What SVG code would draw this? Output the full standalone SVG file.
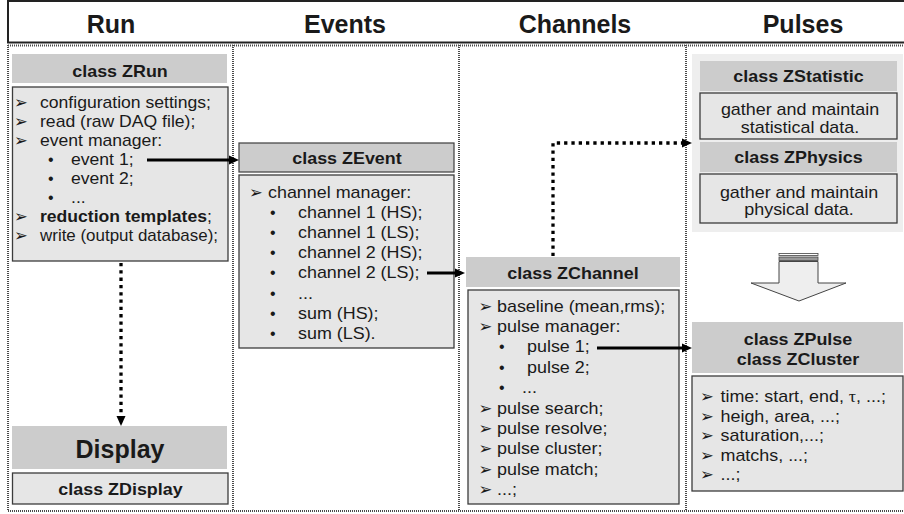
<svg xmlns="http://www.w3.org/2000/svg" width="904" height="514" viewBox="0 0 904 514">
<defs>
<style>
.t{font-family:"Liberation Sans","DejaVu Sans",sans-serif;font-size:16px;fill:#1a1a1a}
.b{font-weight:bold}
.m{text-anchor:middle}
.h{font-family:"Liberation Sans","DejaVu Sans",sans-serif;font-size:25px;font-weight:bold;fill:#1a1a1a;text-anchor:middle}
.sym{font-family:"DejaVu Sans",sans-serif;font-size:16.5px;fill:#1a1a1a}
.bul{font-family:"Liberation Sans",sans-serif;font-size:16px;fill:#1a1a1a}
.hdr{fill:#cccccc}
.body{fill:#e6e6e6;stroke:#3c3c3c;stroke-width:1.3}
.dot{stroke:#4a4a4a;stroke-width:2;stroke-dasharray:1 1;fill:none}
.conn{stroke:#000;stroke-width:3;fill:none}
.dconn{stroke:#000;stroke-width:3.3;stroke-dasharray:3.3 4;fill:none}
</style>
<marker id="ah" markerUnits="userSpaceOnUse" markerWidth="10" markerHeight="10" viewBox="0 0 10 10" refX="0" refY="5" orient="auto">
<path d="M0,0.5 L10,5 L0,9.5 Z" fill="#000"/>
</marker>
</defs>
<rect width="904" height="514" fill="#fff"/>

<g id="title-bar">
<rect x="8" y="1" width="900" height="41.5" fill="#fff" stroke="#222" stroke-width="2"/>
<text class="h" x="111" y="33">Run</text>
<text class="h" x="345" y="33">Events</text>
<text class="h" x="575" y="33">Channels</text>
<text class="h" x="803" y="33">Pulses</text>
</g>

<g id="columns">
<path class="dot" d="M8,45.5 H904 M8,511 H904 M8,45 V511 M233,45 V511 M459,45 V511 M686,45 V511"/>
</g>

<g id="zrun">
<rect class="hdr" x="12" y="54" width="215" height="29"/>
<text class="t b m" transform="translate(120,76.5) scale(1.12,1)">class ZRun</text>
<rect class="body" x="12.5" y="87" width="215.5" height="174"/>
<text class="sym" x="14" y="108">➢</text>
<text class="t" transform="translate(40,108) scale(1.1,1)">configuration settings;</text>
<text class="sym" x="14" y="127">➢</text>
<text class="t" transform="translate(40,127) scale(1.1,1)">read (raw DAQ file);</text>
<text class="sym" x="14" y="146">➢</text>
<text class="t" transform="translate(40,146) scale(1.1,1)">event manager:</text>
<text class="bul" x="48" y="165">•</text>
<text class="t" transform="translate(71,165) scale(1.1,1)">event 1;</text>
<text class="bul" x="48" y="184">•</text>
<text class="t" transform="translate(71,184) scale(1.1,1)">event 2;</text>
<text class="bul" x="48" y="203">•</text>
<text class="t" transform="translate(71,203) scale(1.1,1)">...</text>
<text class="sym" x="14" y="222">➢</text>
<text class="t" transform="translate(40,222) scale(1.1,1)"><tspan class="b">reduction templates</tspan>;</text>
<text class="sym" x="14" y="241">➢</text>
<text class="t" transform="translate(40,241) scale(1.06,1)">write (output database);</text>
</g>

<g id="display">
<rect class="hdr" x="12" y="426" width="215" height="43"/>
<text class="h" x="120" y="458">Display</text>
</g>

<g id="zdisplay">
<rect class="body" x="12.5" y="473" width="215.5" height="31"/>
<text class="t b m" transform="translate(120.5,495) scale(1.12,1)">class ZDisplay</text>
</g>

<g id="zevent">
<rect class="hdr" x="239" y="143" width="215" height="29" stroke="#3c3c3c" stroke-width="1.2"/>
<text class="t b m" transform="translate(347,164) scale(1.12,1)">class ZEvent</text>
<rect class="body" x="239" y="175" width="215" height="173"/>
<text class="sym" x="249" y="197.5">➢</text>
<text class="t" transform="translate(268,197.5) scale(1.12,1)">channel manager:</text>
<text class="bul" x="270" y="217.7">•</text>
<text class="t" transform="translate(298,217.7) scale(1.12,1)">channel 1 (HS);</text>
<text class="bul" x="270" y="237.9">•</text>
<text class="t" transform="translate(298,237.9) scale(1.12,1)">channel 1 (LS);</text>
<text class="bul" x="270" y="258.1">•</text>
<text class="t" transform="translate(298,258.1) scale(1.12,1)">channel 2 (HS);</text>
<text class="bul" x="270" y="278.3">•</text>
<text class="t" transform="translate(298,278.3) scale(1.12,1)">channel 2 (LS);</text>
<text class="bul" x="270" y="298.5">•</text>
<text class="t" transform="translate(298,298.5) scale(1.12,1)">...</text>
<text class="bul" x="270" y="318.7">•</text>
<text class="t" transform="translate(298,318.7) scale(1.12,1)">sum (HS);</text>
<text class="bul" x="270" y="338.9">•</text>
<text class="t" transform="translate(298,338.9) scale(1.12,1)">sum (LS).</text>
</g>

<g id="zchannel">
<rect class="hdr" x="466" y="257" width="214" height="30"/>
<text class="t b m" transform="translate(573,278.5) scale(1.12,1)">class ZChannel</text>
<rect class="body" x="468" y="290" width="211" height="214"/>
<text class="sym" x="478.5" y="311.6">➢</text>
<text class="t" transform="translate(497,311.6) scale(1.12,1)">baseline (mean,rms);</text>
<text class="sym" x="478.5" y="332">➢</text>
<text class="t" transform="translate(497,332) scale(1.12,1)">pulse manager:</text>
<text class="bul" x="499" y="352.4">•</text>
<text class="t" transform="translate(527,352.4) scale(1.12,1)">pulse 1;</text>
<text class="bul" x="499" y="372.8">•</text>
<text class="t" transform="translate(527,372.8) scale(1.12,1)">pulse 2;</text>
<text class="bul" x="499" y="393.2">•</text>
<text class="t" transform="translate(522,393.2) scale(1.12,1)">...</text>
<text class="sym" x="478.5" y="413.6">➢</text>
<text class="t" transform="translate(497,413.6) scale(1.12,1)">pulse search;</text>
<text class="sym" x="478.5" y="434">➢</text>
<text class="t" transform="translate(497,434) scale(1.12,1)">pulse resolve;</text>
<text class="sym" x="478.5" y="454.4">➢</text>
<text class="t" transform="translate(497,454.4) scale(1.12,1)">pulse cluster;</text>
<text class="sym" x="478.5" y="474.8">➢</text>
<text class="t" transform="translate(497,474.8) scale(1.12,1)">pulse match;</text>
<text class="sym" x="478.5" y="495.2">➢</text>
<text class="t" transform="translate(497,495.2) scale(1.12,1)">...;</text>
</g>

<g id="pulses-panel">
<rect x="692" y="54" width="211" height="178" fill="#eeeeee"/>
</g>

<g id="zstatistic">
<rect class="hdr" x="700" y="61" width="197" height="30"/>
<text class="t b m" transform="translate(798.5,82) scale(1.12,1)">class ZStatistic</text>
<rect class="body" x="700" y="93" width="197" height="46"/>
<text class="t m" transform="translate(800,114.5) scale(1.12,1)">gather and maintain</text>
<text class="t m" transform="translate(800,132.5) scale(1.12,1)">statistical data.</text>
</g>

<g id="zphysics">
<rect class="hdr" x="700" y="142" width="197" height="30"/>
<text class="t b m" transform="translate(798.5,163) scale(1.12,1)">class ZPhysics</text>
<rect class="body" x="700" y="174" width="197" height="49"/>
<text class="t m" transform="translate(799,197.5) scale(1.12,1)">gather and maintain</text>
<text class="t m" transform="translate(799,214.5) scale(1.12,1)">physical data.</text>
</g>

<g id="big-arrow">
<rect x="779" y="253.5" width="39" height="2" fill="#fff" stroke="#444" stroke-width="0.8"/>
<rect x="779" y="257" width="39" height="3.5" fill="#999" stroke="#444" stroke-width="0.8"/>
<path d="M779,261.5 H818 V283 H846 L799,301 L751,283 H779 Z" fill="#eeeeee" stroke="#444" stroke-width="1"/>
</g>

<g id="zpulse">
<rect class="hdr" x="692" y="322" width="211" height="51"/>
<text class="t b m" transform="translate(798,345) scale(1.12,1)">class ZPulse</text>
<text class="t b m" transform="translate(798,365) scale(1.12,1)">class ZCluster</text>
<rect class="body" x="692" y="376" width="211" height="115"/>
<text class="sym" x="700" y="402">➢</text>
<text class="t" transform="translate(720.5,402) scale(1.12,1)">time: start, end, <tspan font-family="Liberation Serif, serif">τ</tspan>, ...;</text>
<text class="sym" x="700" y="421.5">➢</text>
<text class="t" transform="translate(720.5,421.5) scale(1.12,1)">heigh, area, ...;</text>
<text class="sym" x="700" y="441">➢</text>
<text class="t" transform="translate(720.5,441) scale(1.12,1)">saturation,...;</text>
<text class="sym" x="700" y="460.5">➢</text>
<text class="t" transform="translate(720.5,460.5) scale(1.12,1)">matchs, ...;</text>
<text class="sym" x="700" y="480">➢</text>
<text class="t" transform="translate(720.5,480) scale(1.12,1)">...;</text>
</g>

<g id="connectors">
<path class="conn" d="M147,160 H229" marker-end="url(#ah)"/>
<path class="conn" d="M427,273 H455" marker-end="url(#ah)"/>
<path class="conn" d="M597,348 H682" marker-end="url(#ah)"/>
<path class="dconn" d="M553,256 V143 H682" marker-end="url(#ah)"/>
<path class="dconn" d="M121,263 V416" marker-end="url(#ah)"/>
</g>
</svg>
